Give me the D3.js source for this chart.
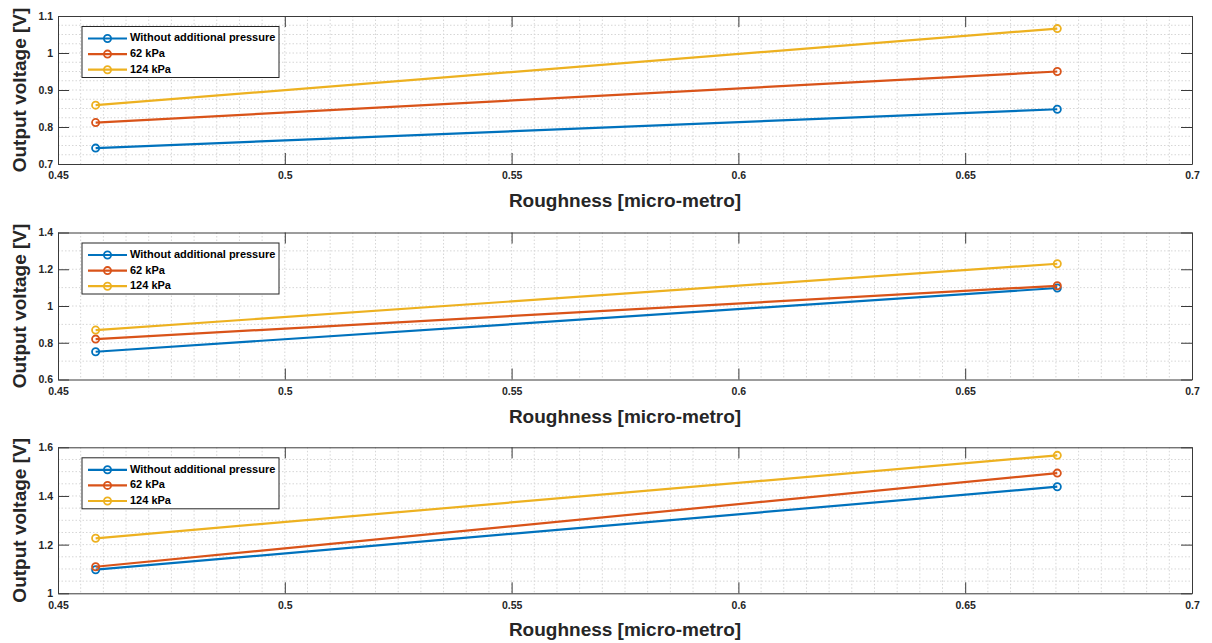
<!DOCTYPE html>
<html>
<head>
<meta charset="utf-8">
<script src="https://cdn.jsdelivr.net/npm/d3@7"></script>
<style>
  body { margin: 0; background: #fff; }
  svg { display: block; font-family: "Liberation Sans", Arial, sans-serif; }
</style>
</head>
<body>
<div id="chart"></div>
<script>
// Output voltage vs roughness, three stacked panels

const seriesNames = ["Without additional pressure", "62 kPa", "124 kPa"];
const roughness = [0.4583, 0.6703];

const voltageTop = [[0.743, 0.848], [0.812, 0.950], [0.859, 1.066]];
const voltageMid = [[0.751, 1.098], [0.820, 1.110], [0.869, 1.230]];
const voltageBottom = [[1.097, 1.438], [1.109, 1.494], [1.226, 1.567]];

const xTicks = [0.45, 0.5, 0.55, 0.6, 0.65, 0.7];
const yTicksTop = [0.7, 0.8, 0.9, 1, 1.1];
const yTicksMid = [0.6, 0.8, 1, 1.2, 1.4];
const yTicksBottom = [1, 1.2, 1.4, 1.6];
const yMinorSteps = [0.025, 0.1, 0.05];
const xMinorStep = 0.005;

const xLabel = "Roughness [micro-metro]";
const yLabel = "Output voltage [V]";

const colors = ["#0072BD", "#D95319", "#EDB120"];

const width = 1212, height = 643;
const left = 58, right = 1192;
const panels = [
  {top: 16, bottom: 164, values: voltageTop, ticks: yTicksTop, minor: yMinorSteps[0]},
  {top: 232.5, bottom: 379.5, values: voltageMid, ticks: yTicksMid, minor: yMinorSteps[1]},
  {top: 447.3, bottom: 593.3, values: voltageBottom, ticks: yTicksBottom, minor: yMinorSteps[2]}
];

const svg = d3.select("#chart").append("svg")
  .attr("width", width)
  .attr("height", height);

const fmt = d => String(+d.toFixed(3));
const tickLen = 11;
const axisColor = "#3a3a3a";
const textColor = "#262626";

const xScale = d3.scaleLinear()
  .domain([xTicks[0], xTicks[xTicks.length - 1]])
  .range([left, right]);

panels.forEach(p => {
  const yScale = d3.scaleLinear()
    .domain([p.ticks[0], p.ticks[p.ticks.length - 1]])
    .range([p.bottom, p.top]);

  const g = svg.append("g");

  // grid (minor + major, dotted)
  const [x0, x1] = xScale.domain();
  const xGrid = d3.range(Math.round((x1 - x0) / xMinorStep) + 1).map(i => x0 + i * xMinorStep);
  const [y0, y1] = yScale.domain();
  const yGrid = d3.range(Math.round((y1 - y0) / p.minor) + 1).map(i => y0 + i * p.minor);

  g.append("g").selectAll("line")
    .data(xGrid.slice(1, -1))
    .join("line")
    .attr("x1", d => xScale(d)).attr("x2", d => xScale(d))
    .attr("y1", p.top).attr("y2", p.bottom)
    .attr("stroke", "#d6d6d6")
    .attr("stroke-width", 1)
    .attr("stroke-dasharray", "1.5,2");

  g.append("g").selectAll("line")
    .data(yGrid.slice(1, -1))
    .join("line")
    .attr("x1", left).attr("x2", right)
    .attr("y1", d => yScale(d)).attr("y2", d => yScale(d))
    .attr("stroke", "#d6d6d6")
    .attr("stroke-width", 1)
    .attr("stroke-dasharray", "1.5,2");

  // axes: bottom + left with labels, top + right mirror ticks
  const bottomAxis = g.append("g")
    .attr("transform", `translate(0, ${p.bottom})`)
    .call(d3.axisBottom(xScale).tickValues(xTicks).tickFormat(fmt).tickSizeInner(-tickLen).tickSizeOuter(0).tickPadding(8));
  const topAxis = g.append("g")
    .attr("transform", `translate(0, ${p.top})`)
    .call(d3.axisTop(xScale).tickValues(xTicks).tickFormat("").tickSizeInner(-tickLen).tickSizeOuter(0));
  const leftAxis = g.append("g")
    .attr("transform", `translate(${left}, 0)`)
    .call(d3.axisLeft(yScale).tickValues(p.ticks).tickFormat(fmt).tickSizeInner(-tickLen).tickSizeOuter(0).tickPadding(5));
  const rightAxis = g.append("g")
    .attr("transform", `translate(${right}, 0)`)
    .call(d3.axisRight(yScale).tickValues(p.ticks).tickFormat("").tickSizeInner(-tickLen).tickSizeOuter(0));

  [bottomAxis, topAxis, leftAxis, rightAxis].forEach(a => {
    a.select(".domain").attr("stroke", axisColor).attr("stroke-width", 1);
    a.selectAll(".tick line").attr("stroke", axisColor).attr("stroke-width", 1);
    a.selectAll("text")
      .attr("fill", textColor)
      .style("font-size", "10.5px")
      .style("font-weight", "bold");
  });
  bottomAxis.selectAll("text").attr("dy", "0.71em");

  // series lines + open circle markers
  p.values.forEach((vals, i) => {
    const pts = roughness.map((x, j) => [x, vals[j]]);
    g.append("path")
      .datum(pts)
      .attr("fill", "none")
      .attr("stroke", colors[i])
      .attr("stroke-width", 2.2)
      .attr("d", d3.line().x(d => xScale(d[0])).y(d => yScale(d[1])));
    g.append("g").selectAll("circle")
      .data(pts)
      .join("circle")
      .attr("cx", d => xScale(d[0]))
      .attr("cy", d => yScale(d[1]))
      .attr("r", 3.6)
      .attr("fill", "none")
      .attr("stroke", colors[i])
      .attr("stroke-width", 1.8);
  });

  // axis titles
  g.append("text")
    .attr("x", (left + right) / 2)
    .attr("y", p.bottom + 38)
    .attr("text-anchor", "middle")
    .attr("dominant-baseline", "middle")
    .attr("fill", textColor)
    .style("font-size", "19px")
    .style("font-weight", "bold")
    .text(xLabel);

  g.append("text")
    .attr("transform", `translate(21, ${(p.top + p.bottom) / 2}) rotate(-90)`)
    .attr("text-anchor", "middle")
    .attr("dominant-baseline", "middle")
    .attr("fill", textColor)
    .style("font-size", "19px")
    .style("font-weight", "bold")
    .text(yLabel);

  // legend
  const lg = g.append("g").attr("transform", `translate(82, ${p.top + 10.5})`);
  lg.append("rect")
    .attr("width", 197).attr("height", 51)
    .attr("fill", "#fff")
    .attr("stroke", "#262626")
    .attr("stroke-width", 1);
  seriesNames.forEach((name, i) => {
    const yy = 12 + i * 15.6;
    lg.append("line")
      .attr("x1", 6).attr("x2", 45)
      .attr("y1", yy).attr("y2", yy)
      .attr("stroke", colors[i])
      .attr("stroke-width", 2.2);
    lg.append("circle")
      .attr("cx", 25.5).attr("cy", yy).attr("r", 3.6)
      .attr("fill", "none")
      .attr("stroke", colors[i])
      .attr("stroke-width", 1.8);
    lg.append("text")
      .attr("x", 48).attr("y", yy)
      .attr("dominant-baseline", "middle")
      .attr("fill", "#000")
      .style("font-size", "11px")
      .style("font-weight", "bold")
      .text(name);
  });
});
</script>
</body>
</html>
